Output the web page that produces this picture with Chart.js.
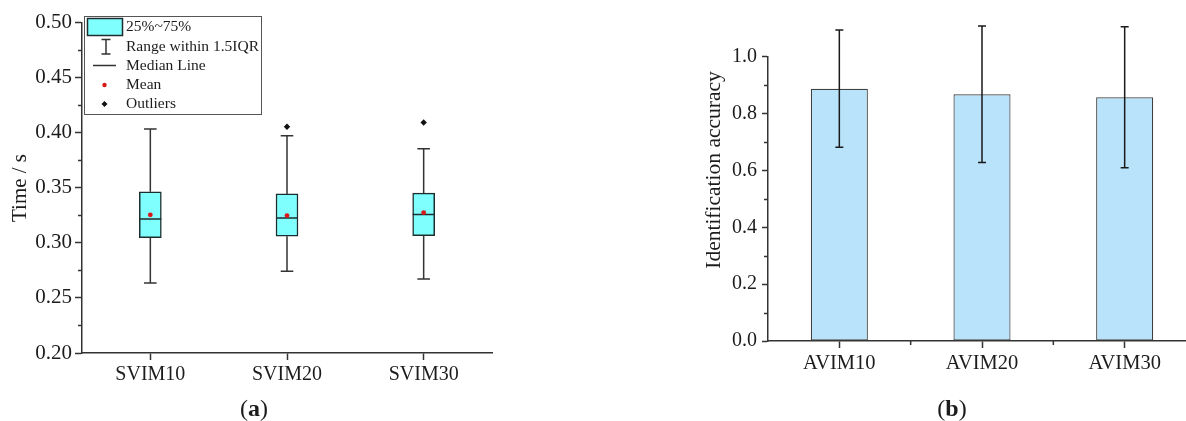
<!DOCTYPE html>
<html>
<head>
<meta charset="utf-8">
<script src="https://cdn.jsdelivr.net/npm/chart.js@4.4.0/dist/chart.umd.min.js"></script>
<style>
html,body{margin:0;padding:0;background:#fff;overflow:hidden;width:1186px;height:421px;}
canvas{position:absolute;top:0;}
</style>
</head>
<body>
<canvas id="chartA" width="520" height="421" style="left:0"></canvas>
<canvas id="chartB" width="620" height="421" style="left:600px"></canvas>
<script>
// (a) time box plot
var svimLabels  = ['SVIM10', 'SVIM20', 'SVIM30'];
var whiskerLow  = [0.2636, 0.2743, 0.2673];
var boxQ1       = [0.3048, 0.3061, 0.3066];
var boxMedian   = [0.3218, 0.3227, 0.3257];
var boxQ3       = [0.3464, 0.3445, 0.3452];
var whiskerHigh = [0.4034, 0.3973, 0.3855];
var timeMean    = [0.3255, 0.3248, 0.3275];
var outliers    = [null, 0.4055, 0.4094];
var legendLabels = ['25%~75%', 'Range within 1.5IQR', 'Median Line', 'Mean', 'Outliers'];

// (b) identification accuracy
var avimLabels  = ['AVIM10', 'AVIM20', 'AVIM30'];
var accuracy    = [0.8875, 0.8677, 0.857];
var accuracyErr = [0.206, 0.240, 0.248];

var SERIF = '"Liberation Serif", "Times New Roman", serif';
var INK = '#1c1c1c';
var AXIS = '#333';
Chart.defaults.font.family = SERIF;
Chart.defaults.color = INK;

// small unlabelled ticks between the labelled ones
var minorTicks = {
  id: 'minorTicks',
  afterDraw: function(chart, args, opts) {
    var ctx = chart.ctx, y = chart.scales.y, x = chart.scales.x, area = chart.chartArea;
    ctx.save();
    ctx.strokeStyle = AXIS;
    ctx.lineWidth = 1.5;
    ctx.beginPath();
    for (var v = y.min + opts.yStep; v < y.max; v += opts.yStep * 2) {
      var py = Math.round(y.getPixelForValue(v)) + 0.5;
      ctx.moveTo(area.left, py);
      ctx.lineTo(area.left - 4, py);
    }
    if (opts.xBetween) {
      for (var i = 0; i < x.ticks.length - 1; i++) {
        var px = (x.getPixelForValue(i) + x.getPixelForValue(i + 1)) / 2;
        ctx.moveTo(px, area.bottom);
        ctx.lineTo(px, area.bottom + 4);
      }
    }
    ctx.stroke();
    ctx.restore();
  }
};

// axis title and panel caption
var captions = {
  id: 'captions',
  afterDraw: function(chart, args, opts) {
    var ctx = chart.ctx;
    ctx.save();
    ctx.fillStyle = INK;
    ctx.textBaseline = 'middle';
    ctx.textAlign = 'center';
    ctx.translate(opts.titleX, opts.titleY);
    ctx.rotate(-Math.PI / 2);
    ctx.font = opts.titleSize + 'px ' + SERIF;
    ctx.fillText(opts.title, 0, 0);
    ctx.restore();

    ctx.save();
    ctx.fillStyle = INK;
    ctx.textBaseline = 'middle';
    ctx.textAlign = 'left';
    var fn = '24px ' + SERIF, fb = 'bold 24px ' + SERIF;
    ctx.font = fn; var wp = ctx.measureText('(').width, wc = ctx.measureText(')').width;
    ctx.font = fb; var wl = ctx.measureText(opts.letter).width;
    var sx = opts.capX - (wp + wl + wc) / 2;
    ctx.font = fn; ctx.fillText('(', sx, opts.capY);
    ctx.font = fb; ctx.fillText(opts.letter, sx + wp, opts.capY);
    ctx.font = fn; ctx.fillText(')', sx + wp + wl, opts.capY);
    ctx.restore();
  }
};

var boxParts = {
  id: 'boxParts',
  beforeDatasetsDraw: function(chart) {
    var ctx = chart.ctx, x = chart.scales.x, y = chart.scales.y;
    ctx.save();
    ctx.strokeStyle = AXIS;
    ctx.lineWidth = 1.5;
    ctx.beginPath();
    for (var i = 0; i < svimLabels.length; i++) {
      var px = x.getPixelForValue(i);
      var hi = y.getPixelForValue(whiskerHigh[i]), lo = y.getPixelForValue(whiskerLow[i]);
      ctx.moveTo(px, hi); ctx.lineTo(px, y.getPixelForValue(boxQ3[i]));
      ctx.moveTo(px, y.getPixelForValue(boxQ1[i])); ctx.lineTo(px, lo);
      ctx.moveTo(px - 6.3, hi); ctx.lineTo(px + 6.3, hi);
      ctx.moveTo(px - 6.3, lo); ctx.lineTo(px + 6.3, lo);
    }
    ctx.stroke();
    ctx.restore();
  },
  afterDatasetDraw: function(chart, args) {
    if (args.index !== 0) return;
    var ctx = chart.ctx, x = chart.scales.x, y = chart.scales.y;
    ctx.save();
    ctx.strokeStyle = '#1e2e2e';
    ctx.lineWidth = 1.5;
    ctx.beginPath();
    for (var i = 0; i < svimLabels.length; i++) {
      var px = x.getPixelForValue(i), pm = y.getPixelForValue(boxMedian[i]);
      ctx.moveTo(px - 11, pm); ctx.lineTo(px + 11, pm);
    }
    ctx.stroke();
    ctx.restore();
  },
  afterDraw: function(chart) {
    // legend box in the upper left of the plot
    var ctx = chart.ctx;
    ctx.save();
    ctx.fillStyle = '#fff';
    ctx.fillRect(84.5, 16.5, 177, 98);
    ctx.strokeStyle = '#555';
    ctx.lineWidth = 1;
    ctx.strokeRect(84.5, 16.5, 177, 98);

    ctx.fillStyle = '#80ffff';
    ctx.fillRect(87.5, 18.5, 35, 17);
    ctx.strokeStyle = '#1e2e2e';
    ctx.lineWidth = 1.5;
    ctx.strokeRect(87.5, 18.5, 35, 17);

    ctx.strokeStyle = AXIS;
    ctx.beginPath();
    ctx.moveTo(106, 39.5); ctx.lineTo(106, 54);
    ctx.moveTo(101.5, 39.5); ctx.lineTo(110.5, 39.5);
    ctx.moveTo(101.5, 54); ctx.lineTo(110.5, 54);
    ctx.moveTo(93, 65.5); ctx.lineTo(116, 65.5);
    ctx.stroke();

    ctx.fillStyle = '#d81818';
    ctx.beginPath(); ctx.arc(104.5, 85, 2.2, 0, Math.PI * 2); ctx.fill();
    ctx.fillStyle = '#111';
    ctx.beginPath();
    ctx.moveTo(104.5, 101); ctx.lineTo(107.5, 104); ctx.lineTo(104.5, 107); ctx.lineTo(101.5, 104);
    ctx.closePath(); ctx.fill();

    ctx.fillStyle = INK;
    ctx.font = '15.5px ' + SERIF;
    ctx.textBaseline = 'middle';
    var rows = [27, 46.5, 65.5, 85, 104];
    for (var i = 0; i < legendLabels.length; i++) ctx.fillText(legendLabels[i], 126, rows[i]);
    ctx.restore();
  }
};

var errorBars = {
  id: 'errorBars',
  afterDatasetsDraw: function(chart) {
    var ctx = chart.ctx, x = chart.scales.x, y = chart.scales.y;
    ctx.save();
    ctx.strokeStyle = '#1a1a1a';
    ctx.lineWidth = 1.5;
    ctx.beginPath();
    for (var i = 0; i < accuracy.length; i++) {
      var px = x.getPixelForValue(i);
      var hi = y.getPixelForValue(accuracy[i] + accuracyErr[i]);
      var lo = y.getPixelForValue(accuracy[i] - accuracyErr[i]);
      ctx.moveTo(px, hi); ctx.lineTo(px, lo);
      ctx.moveTo(px - 4, hi); ctx.lineTo(px + 4, hi);
      ctx.moveTo(px - 4, lo); ctx.lineTo(px + 4, lo);
    }
    ctx.stroke();
    ctx.restore();
  }
};

new Chart(document.getElementById('chartA'), {
  type: 'bar',
  data: {
    labels: svimLabels,
    datasets: [{
      label: '25%~75%',
      data: svimLabels.map(function(l, i) { return [boxQ1[i], boxQ3[i]]; }),
      backgroundColor: '#80ffff',
      borderColor: '#1e2e2e',
      borderWidth: 1.5,
      borderSkipped: false,
      barThickness: 22,
      order: 1
    }, {
      type: 'line',
      label: 'Mean',
      data: timeMean,
      showLine: false,
      pointStyle: 'circle',
      pointRadius: 2.4,
      pointBackgroundColor: '#d81818',
      pointBorderWidth: 0,
      order: 0
    }, {
      type: 'line',
      label: 'Outliers',
      data: outliers,
      showLine: false,
      pointStyle: 'rectRot',
      pointRadius: 3.2,
      pointBackgroundColor: '#111',
      pointBorderWidth: 0,
      order: 0
    }]
  },
  options: {
    responsive: false,
    animation: false,
    layout: { padding: { left: 0, top: 22.7, right: 28, bottom: 0 } },
    plugins: {
      legend: { display: false },
      tooltip: { enabled: false },
      minorTicks: { yStep: 0.025, xBetween: false },
      captions: { title: 'Time / s', titleX: 20, titleY: 188, titleSize: 21, letter: 'a', capX: 254, capY: 410 }
    },
    scales: {
      x: {
        grid: { drawOnChartArea: false, offset: false, tickLength: 7, color: AXIS, tickWidth: 1.5 },
        border: { color: AXIS, width: 1.5 },
        ticks: { font: { size: 20 }, color: INK, padding: 3 },
        afterFit: function(s) { s.height = 68; }
      },
      y: {
        min: 0.2, max: 0.5,
        grid: { drawOnChartArea: false, tickLength: 7, color: AXIS, tickWidth: 1.5 },
        border: { color: AXIS, width: 1.5 },
        ticks: { stepSize: 0.05, font: { size: 21 }, color: INK, padding: 3,
                 callback: function(v) { return v.toFixed(2); } },
        afterFit: function(s) { s.width = 82; }
      }
    }
  },
  plugins: [boxParts, minorTicks, captions]
});

new Chart(document.getElementById('chartB'), {
  type: 'bar',
  data: {
    labels: avimLabels,
    datasets: [{
      label: 'Identification accuracy',
      data: accuracy,
      backgroundColor: '#b9e3fa',
      borderColor: '#404040',
      borderWidth: 1.2,
      borderSkipped: false,
      barPercentage: 0.4,
      categoryPercentage: 1.0
    }]
  },
  options: {
    responsive: false,
    animation: false,
    layout: { padding: { left: 0, top: 56.7, right: 24, bottom: 0 } },
    plugins: {
      legend: { display: false },
      tooltip: { enabled: false },
      minorTicks: { yStep: 0.1, xBetween: true },
      captions: { title: 'Identification accuracy', titleX: 114, titleY: 170, titleSize: 21.5, letter: 'b', capX: 352, capY: 410 }
    },
    scales: {
      x: {
        grid: { drawOnChartArea: false, offset: false, tickLength: 7, color: AXIS, tickWidth: 1.5 },
        border: { color: AXIS, width: 1.5 },
        ticks: { font: { size: 20.5 }, color: INK, padding: 3 },
        afterFit: function(s) { s.height = 80; }
      },
      y: {
        min: 0, max: 1.0,
        grid: { drawOnChartArea: false, tickLength: 6, color: AXIS, tickWidth: 1.5 },
        border: { color: AXIS, width: 1.5 },
        ticks: { stepSize: 0.2, font: { size: 20 }, color: INK, padding: 5,
                 callback: function(v) { return v.toFixed(1); } },
        afterFit: function(s) { s.width = 168; }
      }
    }
  },
  plugins: [errorBars, minorTicks, captions]
});
</script>
</body>
</html>
